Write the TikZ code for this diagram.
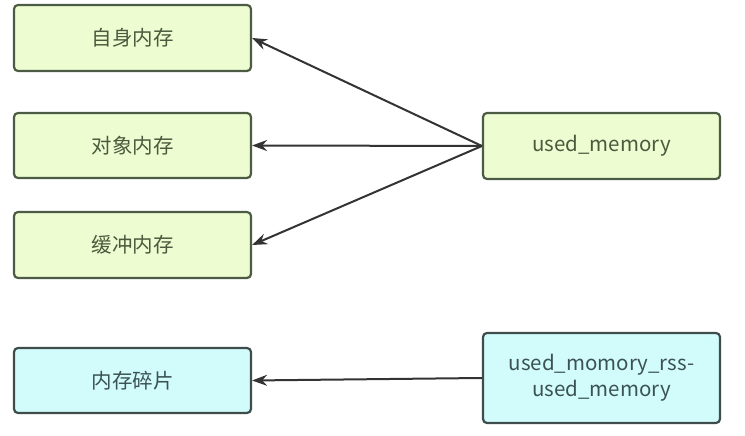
\documentclass[tikz,border=0pt]{standalone}
\usepackage{fontspec}
\setmainfont{Noto Sans CJK SC}
\usetikzlibrary{arrows.meta}
\definecolor{gfill}{HTML}{EEFCD2}
\definecolor{gdraw}{HTML}{4C5C44}
\definecolor{gtext}{HTML}{4A5A3C}
\definecolor{cfill}{HTML}{D2FCFC}
\definecolor{cdraw}{HTML}{3E4C4C}
\definecolor{ctext}{HTML}{3C5252}
\definecolor{arr}{HTML}{333333}
\tikzset{
  gbox/.style={draw=gdraw, fill=gfill, text=gtext, line width=2.2pt, rounded corners=4pt, minimum width=237pt, inner sep=0pt, font=\fontsize{20.5}{24}\selectfont, align=center},
  cbox/.style={draw=cdraw, fill=cfill, text=ctext, line width=2.2pt, rounded corners=4pt, minimum width=237pt, inner sep=0pt, font=\fontsize{20.5}{26}\selectfont, align=center},
  conn/.style={draw=arr, line width=2pt, -{Stealth[length=15pt,width=11pt]}}
}
\begin{document}
\begin{tikzpicture}[x=1pt,y=1pt]
\useasboundingbox (0,0) rectangle (745,436);
\node[gbox, minimum height=66pt] (a) at (132.5,398) {自身内存};
\node[gbox, minimum height=65pt] (b) at (132.5,290.5) {对象内存};
\node[gbox, minimum height=66pt] (c) at (132.5,191) {缓冲内存};
\node[cbox, minimum height=65pt] (d) at (132.5,55.5) {内存碎片};
\node[gbox, minimum height=66pt] (u) at (601.5,290) {used\_memory};
\node[cbox, minimum height=90pt] (r) at (601.5,58) {used\_momory\_rss-\\used\_memory};
\draw[conn] (u.west) -- (a.east);
\draw[conn] (u.west) -- (b.east);
\draw[conn] (u.west) -- (c.east);
\draw[conn] (r.west) -- (d.east);
\end{tikzpicture}
\end{document}
